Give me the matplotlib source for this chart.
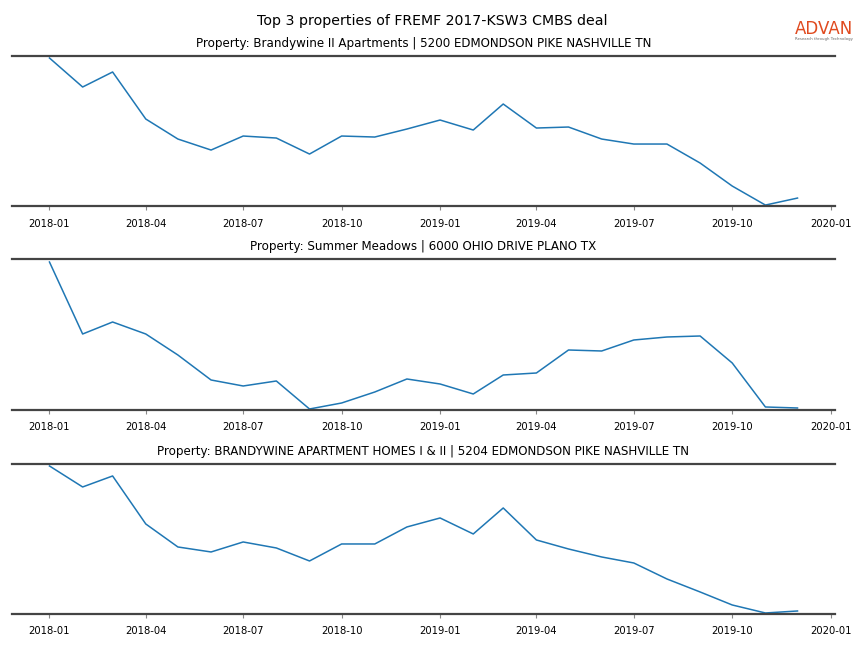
import pandas as pd
import matplotlib
matplotlib.use('Agg')
import matplotlib.pyplot as plt
import matplotlib.dates as mdates

# monthly index per property (relative scale)
meses = pd.date_range('2018-01-01', '2019-12-01', freq='MS')

titulos = [
    'Property: Brandywine II Apartments | 5200 EDMONDSON PIKE NASHVILLE TN',
    'Property: Summer Meadows | 6000 OHIO DRIVE PLANO TX',
    'Property: BRANDYWINE APARTMENT HOMES I & II | 5204 EDMONDSON PIKE NASHVILLE TN',
]

prop1 = [148, 119, 134, 87, 67, 56, 70, 68, 52, 70, 69, 77, 86, 76, 102, 78, 79, 67, 62, 62, 43, 20, 1, 8]
prop2 = [148, 76, 88, 76, 55, 30, 24, 29, 1, 7, 18, 31, 26, 16, 35, 37, 60, 59, 70, 73, 74, 47, 3, 2]
prop3 = [148, 127, 138, 90, 67, 62, 72, 66, 53, 70, 70, 87, 96, 80, 106, 74, 65, 57, 51, 35, 22, 9, 1, 3]

series = [prop1, prop2, prop3]
alturas = [150, 151, 150]

# posiciones de los paneles (fraccion de figura)
cajas = [
    [0.0139, 0.682, 0.9525, 0.2316],
    [0.0139, 0.3673, 0.9525, 0.2330],
    [0.0139, 0.0525, 0.9525, 0.2315],
]

fig = plt.figure(figsize=(8.64, 6.48), dpi=100)
fig.suptitle('Top 3 properties of FREMF 2017-KSW3 CMBS deal', fontsize=10.2, y=0.978)

for caja, titulo, valores, alto in zip(cajas, titulos, series, alturas):
    ax = fig.add_axes(caja)
    ax.plot(meses, valores, color='#1f77b4', linewidth=1.1)
    ax.set_title(titulo, fontsize=8.6, pad=6.5)
    ax.set_ylim(0, alto)
    ax.set_yticks([])
    ax.spines['left'].set_visible(False)
    ax.spines['right'].set_visible(False)
    for s in ['top', 'bottom']:
        ax.spines[s].set_color('#444444')
        ax.spines[s].set_linewidth(1.6)
    ax.xaxis.set_major_locator(mdates.MonthLocator(bymonth=[1, 4, 7, 10]))
    ax.xaxis.set_major_formatter(mdates.DateFormatter('%Y-%m'))
    ax.set_xlim(pd.Timestamp('2017-11-27'), pd.Timestamp('2020-01-05'))
    ax.tick_params(axis='x', labelsize=7.2, length=3, color='#888888', pad=6)

# logo
fig.text(0.954, 0.942, 'ADVAN', color='#e04a1f', fontsize=12, ha='center', va='bottom')
fig.text(0.954, 0.937, 'Research through Technology', color='#666666', fontsize=2.8, ha='center', va='bottom')

fig.savefig('out.png', dpi=100)
